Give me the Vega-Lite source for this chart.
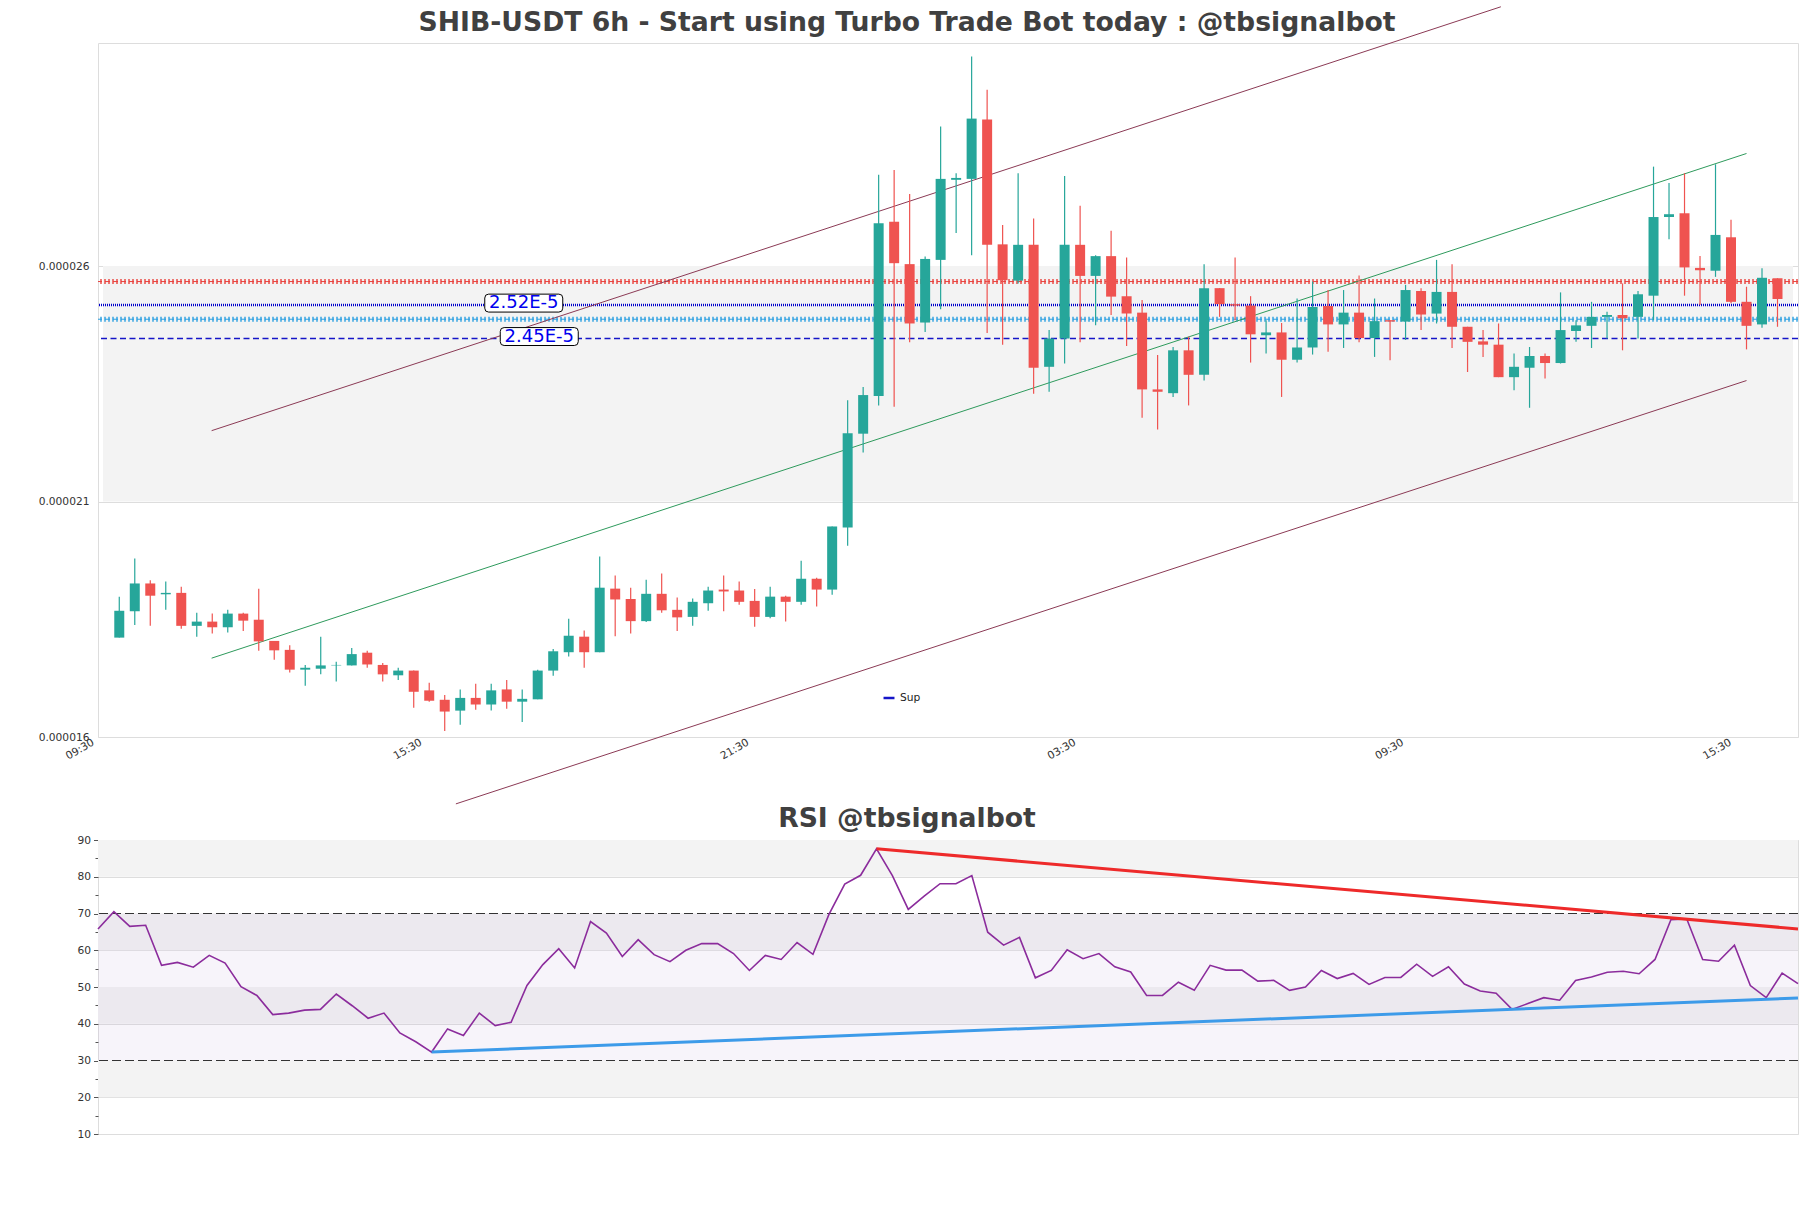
{
  "$schema": "https://vega.github.io/schema/vega-lite/v6.json",
  "background": "white",
  "padding": {"left": 37, "top": 4, "right": 10, "bottom": 5},
  "bounds": "flush",
  "spacing": 103,
  "config": {
    "view": {"stroke": "#dddddd", "strokeWidth": 1},
    "axis": {"labelFont": "DejaVu Sans", "labelColor": "#333333", "domain": false, "labelOverlap": false},
    "legend": {"labelFont": "DejaVu Sans"}
  },
  "datasets": {
    "candles": [
      {"i":0,"o":18.11e-6,"h":18.98e-6,"l":18.11e-6,"c":18.68e-6,"r":65.8},
      {"i":1,"o":18.67e-6,"h":19.79e-6,"l":18.38e-6,"c":19.26e-6,"r":70.5},
      {"i":2,"o":19.26e-6,"h":19.33e-6,"l":18.36e-6,"c":19.00e-6,"r":66.5},
      {"i":3,"o":19.03e-6,"h":19.30e-6,"l":18.70e-6,"c":19.06e-6,"r":66.8},
      {"i":4,"o":19.06e-6,"h":19.19e-6,"l":18.30e-6,"c":18.36e-6,"r":55.9},
      {"i":5,"o":18.36e-6,"h":18.64e-6,"l":18.13e-6,"c":18.45e-6,"r":56.7},
      {"i":6,"o":18.45e-6,"h":18.62e-6,"l":18.20e-6,"c":18.33e-6,"r":55.4},
      {"i":7,"o":18.33e-6,"h":18.70e-6,"l":18.22e-6,"c":18.62e-6,"r":58.6},
      {"i":8,"o":18.62e-6,"h":18.64e-6,"l":18.25e-6,"c":18.47e-6,"r":56.5},
      {"i":9,"o":18.49e-6,"h":19.15e-6,"l":17.83e-6,"c":18.03e-6,"r":50.1},
      {"i":10,"o":18.04e-6,"h":18.04e-6,"l":17.64e-6,"c":17.84e-6,"r":47.7},
      {"i":11,"o":17.85e-6,"h":17.95e-6,"l":17.37e-6,"c":17.43e-6,"r":42.5},
      {"i":12,"o":17.43e-6,"h":17.53e-6,"l":17.09e-6,"c":17.47e-6,"r":42.9},
      {"i":13,"o":17.45e-6,"h":18.13e-6,"l":17.33e-6,"c":17.52e-6,"r":43.7},
      {"i":14,"o":17.52e-6,"h":17.60e-6,"l":17.18e-6,"c":17.53e-6,"r":43.9},
      {"i":15,"o":17.52e-6,"h":17.89e-6,"l":17.52e-6,"c":17.76e-6,"r":48.1},
      {"i":16,"o":17.79e-6,"h":17.83e-6,"l":17.47e-6,"c":17.54e-6,"r":44.9},
      {"i":17,"o":17.53e-6,"h":17.57e-6,"l":17.18e-6,"c":17.33e-6,"r":41.5},
      {"i":18,"o":17.31e-6,"h":17.47e-6,"l":17.21e-6,"c":17.41e-6,"r":42.9},
      {"i":19,"o":17.41e-6,"h":17.41e-6,"l":16.62e-6,"c":16.96e-6,"r":37.5},
      {"i":20,"o":16.99e-6,"h":17.15e-6,"l":16.75e-6,"c":16.77e-6,"r":35.1},
      {"i":21,"o":16.79e-6,"h":16.89e-6,"l":16.13e-6,"c":16.54e-6,"r":32.3},
      {"i":22,"o":16.56e-6,"h":17.01e-6,"l":16.26e-6,"c":16.83e-6,"r":38.6},
      {"i":23,"o":16.83e-6,"h":17.13e-6,"l":16.58e-6,"c":16.69e-6,"r":36.8},
      {"i":24,"o":16.69e-6,"h":17.13e-6,"l":16.56e-6,"c":16.99e-6,"r":42.9},
      {"i":25,"o":17.01e-6,"h":17.21e-6,"l":16.60e-6,"c":16.75e-6,"r":39.5},
      {"i":26,"o":16.75e-6,"h":17.01e-6,"l":16.32e-6,"c":16.81e-6,"r":40.4},
      {"i":27,"o":16.80e-6,"h":17.43e-6,"l":16.80e-6,"c":17.41e-6,"r":50.4},
      {"i":28,"o":17.41e-6,"h":17.87e-6,"l":17.30e-6,"c":17.82e-6,"r":56.1},
      {"i":29,"o":17.80e-6,"h":18.51e-6,"l":17.71e-6,"c":18.15e-6,"r":60.4},
      {"i":30,"o":18.13e-6,"h":18.26e-6,"l":17.47e-6,"c":17.80e-6,"r":55.2},
      {"i":31,"o":17.80e-6,"h":19.83e-6,"l":17.80e-6,"c":19.17e-6,"r":67.8},
      {"i":32,"o":19.15e-6,"h":19.43e-6,"l":18.14e-6,"c":18.92e-6,"r":64.7},
      {"i":33,"o":18.93e-6,"h":19.17e-6,"l":18.20e-6,"c":18.46e-6,"r":58.3},
      {"i":34,"o":18.46e-6,"h":19.34e-6,"l":18.44e-6,"c":19.04e-6,"r":62.9},
      {"i":35,"o":19.04e-6,"h":19.47e-6,"l":18.64e-6,"c":18.69e-6,"r":58.8},
      {"i":36,"o":18.70e-6,"h":18.96e-6,"l":18.25e-6,"c":18.54e-6,"r":56.9},
      {"i":37,"o":18.55e-6,"h":18.94e-6,"l":18.36e-6,"c":18.87e-6,"r":60.0},
      {"i":38,"o":18.84e-6,"h":19.19e-6,"l":18.68e-6,"c":19.11e-6,"r":61.8},
      {"i":39,"o":19.13e-6,"h":19.43e-6,"l":18.67e-6,"c":19.09e-6,"r":61.8},
      {"i":40,"o":19.11e-6,"h":19.30e-6,"l":18.81e-6,"c":18.87e-6,"r":59.1},
      {"i":41,"o":18.89e-6,"h":19.14e-6,"l":18.34e-6,"c":18.55e-6,"r":54.5},
      {"i":42,"o":18.55e-6,"h":19.19e-6,"l":18.52e-6,"c":18.98e-6,"r":58.6},
      {"i":43,"o":18.98e-6,"h":19.00e-6,"l":18.45e-6,"c":18.87e-6,"r":57.5},
      {"i":44,"o":18.87e-6,"h":19.74e-6,"l":18.81e-6,"c":19.36e-6,"r":62.1},
      {"i":45,"o":19.36e-6,"h":19.38e-6,"l":18.77e-6,"c":19.13e-6,"r":58.9},
      {"i":46,"o":19.13e-6,"h":20.47e-6,"l":19.02e-6,"c":20.47e-6,"r":69.7},
      {"i":47,"o":20.45e-6,"h":23.15e-6,"l":20.06e-6,"c":22.45e-6,"r":78.0},
      {"i":48,"o":22.44e-6,"h":23.43e-6,"l":22.04e-6,"c":23.26e-6,"r":80.4},
      {"i":49,"o":23.24e-6,"h":27.94e-6,"l":23.04e-6,"c":26.91e-6,"r":87.6},
      {"i":50,"o":26.94e-6,"h":28.04e-6,"l":23.01e-6,"c":26.06e-6,"r":80.3},
      {"i":51,"o":26.04e-6,"h":27.53e-6,"l":24.38e-6,"c":24.78e-6,"r":71.1},
      {"i":52,"o":24.80e-6,"h":26.20e-6,"l":24.60e-6,"c":26.15e-6,"r":74.7},
      {"i":53,"o":26.13e-6,"h":28.96e-6,"l":25.08e-6,"c":27.85e-6,"r":78.1},
      {"i":54,"o":27.83e-6,"h":27.97e-6,"l":26.70e-6,"c":27.87e-6,"r":78.1},
      {"i":55,"o":27.85e-6,"h":30.45e-6,"l":26.23e-6,"c":29.13e-6,"r":80.3},
      {"i":56,"o":29.11e-6,"h":29.74e-6,"l":24.58e-6,"c":26.45e-6,"r":64.9},
      {"i":57,"o":26.46e-6,"h":26.87e-6,"l":24.33e-6,"c":25.70e-6,"r":61.4},
      {"i":58,"o":25.69e-6,"h":27.97e-6,"l":25.63e-6,"c":26.45e-6,"r":63.5},
      {"i":59,"o":26.45e-6,"h":27.01e-6,"l":23.29e-6,"c":23.84e-6,"r":52.5},
      {"i":60,"o":23.86e-6,"h":24.64e-6,"l":23.33e-6,"c":24.46e-6,"r":54.5},
      {"i":61,"o":24.46e-6,"h":27.91e-6,"l":23.93e-6,"c":26.45e-6,"r":60.1},
      {"i":62,"o":26.45e-6,"h":27.28e-6,"l":24.38e-6,"c":25.79e-6,"r":57.7},
      {"i":63,"o":25.79e-6,"h":26.23e-6,"l":24.74e-6,"c":26.21e-6,"r":59.1},
      {"i":64,"o":26.21e-6,"h":26.75e-6,"l":24.96e-6,"c":25.35e-6,"r":55.5},
      {"i":65,"o":25.36e-6,"h":26.18e-6,"l":24.30e-6,"c":24.99e-6,"r":54.1},
      {"i":66,"o":25.01e-6,"h":25.28e-6,"l":22.78e-6,"c":23.38e-6,"r":47.7},
      {"i":67,"o":23.38e-6,"h":24.11e-6,"l":22.53e-6,"c":23.33e-6,"r":47.7},
      {"i":68,"o":23.30e-6,"h":24.28e-6,"l":23.22e-6,"c":24.21e-6,"r":51.3},
      {"i":69,"o":24.21e-6,"h":24.50e-6,"l":23.04e-6,"c":23.69e-6,"r":49.1},
      {"i":70,"o":23.69e-6,"h":26.04e-6,"l":23.57e-6,"c":25.53e-6,"r":55.9},
      {"i":71,"o":25.53e-6,"h":25.53e-6,"l":24.92e-6,"c":25.19e-6,"r":54.6},
      {"i":72,"o":25.19e-6,"h":26.18e-6,"l":24.85e-6,"c":25.16e-6,"r":54.6},
      {"i":73,"o":25.16e-6,"h":25.36e-6,"l":23.95e-6,"c":24.55e-6,"r":51.6},
      {"i":74,"o":24.53e-6,"h":24.85e-6,"l":24.14e-6,"c":24.59e-6,"r":51.8},
      {"i":75,"o":24.59e-6,"h":24.79e-6,"l":23.22e-6,"c":24.01e-6,"r":49.1},
      {"i":76,"o":24.01e-6,"h":25.31e-6,"l":23.95e-6,"c":24.27e-6,"r":50.0},
      {"i":77,"o":24.27e-6,"h":25.67e-6,"l":24.12e-6,"c":25.13e-6,"r":54.5},
      {"i":78,"o":25.15e-6,"h":25.49e-6,"l":24.18e-6,"c":24.76e-6,"r":52.3},
      {"i":79,"o":24.76e-6,"h":25.49e-6,"l":24.26e-6,"c":25.01e-6,"r":53.7},
      {"i":80,"o":25.01e-6,"h":25.80e-6,"l":24.38e-6,"c":24.47e-6,"r":50.7},
      {"i":81,"o":24.47e-6,"h":25.31e-6,"l":24.07e-6,"c":24.83e-6,"r":52.6},
      {"i":82,"o":24.85e-6,"h":24.85e-6,"l":24.00e-6,"c":24.82e-6,"r":52.6},
      {"i":83,"o":24.82e-6,"h":25.60e-6,"l":24.43e-6,"c":25.49e-6,"r":56.2},
      {"i":84,"o":25.47e-6,"h":25.53e-6,"l":24.64e-6,"c":24.97e-6,"r":52.9},
      {"i":85,"o":24.99e-6,"h":26.13e-6,"l":24.78e-6,"c":25.45e-6,"r":55.5},
      {"i":86,"o":25.45e-6,"h":26.04e-6,"l":24.26e-6,"c":24.71e-6,"r":50.8},
      {"i":87,"o":24.71e-6,"h":24.71e-6,"l":23.75e-6,"c":24.39e-6,"r":48.9},
      {"i":88,"o":24.40e-6,"h":24.64e-6,"l":24.07e-6,"c":24.33e-6,"r":48.3},
      {"i":89,"o":24.33e-6,"h":24.78e-6,"l":23.64e-6,"c":23.64e-6,"r":43.9},
      {"i":90,"o":23.64e-6,"h":24.14e-6,"l":23.36e-6,"c":23.86e-6,"r":45.5},
      {"i":91,"o":23.84e-6,"h":24.28e-6,"l":22.99e-6,"c":24.09e-6,"r":47.1},
      {"i":92,"o":24.09e-6,"h":24.14e-6,"l":23.61e-6,"c":23.94e-6,"r":46.4},
      {"i":93,"o":23.94e-6,"h":25.44e-6,"l":23.93e-6,"c":24.64e-6,"r":51.8},
      {"i":94,"o":24.62e-6,"h":24.85e-6,"l":24.39e-6,"c":24.74e-6,"r":52.7},
      {"i":95,"o":24.73e-6,"h":25.24e-6,"l":24.26e-6,"c":24.92e-6,"r":54.0},
      {"i":96,"o":24.92e-6,"h":25.03e-6,"l":24.46e-6,"c":24.96e-6,"r":54.3},
      {"i":97,"o":24.96e-6,"h":25.63e-6,"l":24.21e-6,"c":24.89e-6,"r":53.6},
      {"i":98,"o":24.92e-6,"h":25.47e-6,"l":24.46e-6,"c":25.40e-6,"r":57.5},
      {"i":99,"o":25.37e-6,"h":28.11e-6,"l":24.85e-6,"c":27.04e-6,"r":68.3},
      {"i":100,"o":27.04e-6,"h":27.76e-6,"l":26.57e-6,"c":27.10e-6,"r":68.5},
      {"i":101,"o":27.12e-6,"h":27.97e-6,"l":25.37e-6,"c":25.97e-6,"r":57.5},
      {"i":102,"o":25.96e-6,"h":26.21e-6,"l":25.17e-6,"c":25.91e-6,"r":57.0},
      {"i":103,"o":25.90e-6,"h":28.16e-6,"l":25.77e-6,"c":26.66e-6,"r":61.4},
      {"i":104,"o":26.61e-6,"h":26.98e-6,"l":25.21e-6,"c":25.24e-6,"r":50.4},
      {"i":105,"o":25.24e-6,"h":25.56e-6,"l":24.23e-6,"c":24.73e-6,"r":47.1},
      {"i":106,"o":24.76e-6,"h":25.95e-6,"l":24.69e-6,"c":25.75e-6,"r":53.8},
      {"i":107,"o":25.74e-6,"h":25.74e-6,"l":24.71e-6,"c":25.30e-6,"r":50.9}
    ],
    "chan": [
      {"g":"up","i":5.96,"p":22.504e-6},
      {"g":"up","i":89.15,"p":31.504e-6},
      {"g":"lo","i":21.72,"p":14.58e-6},
      {"g":"lo","i":105,"p":23.568e-6}
    ],
    "mid": [
      {"i":5.96,"p":17.674e-6},
      {"i":105,"p":28.389e-6}
    ],
    "sup": [
      {"i":21,"v":32.3},
      {"i":107,"v":47.0}
    ],
    "res": [
      {"i":49,"v":87.6},
      {"i":107,"v":65.8}
    ],
    "tags": [
      {"t":"2.52E-5","i":26.1,"p":25.17e-6},
      {"t":"2.45E-5","i":27.1,"p":24.46e-6}
    ]
  },
  "vconcat": [
    {
      "width": 1700,
      "height": 694,
      "title": {"text": "SHIB-USDT 6h - Start using Turbo Trade Bot today : @tbsignalbot", "font": "DejaVu Sans", "fontSize": 26.67, "fontWeight": "bold", "color": "#404040", "anchor": "middle", "frame": "group", "dx": -41, "offset": -53, "baseline": "alphabetic"},
      "layer": [
        {
          "data": {"values": [{"lo": 21e-6, "hi": 26e-6}]},
          "mark": {"type": "rect", "color": "#f3f3f3"},
          "encoding": {
            "x": {"datum": -1.05, "type": "quantitative", "scale": {"domain": [-1.05, 108], "nice": false, "zero": false},
              "axis": {"values": [-1.05, 20.1, 41.2, 62.3, 83.45, 104.6], "tickCount": 20, "labelExpr": "datum.value < 0 ? '09:30' : datum.value < 30 ? '15:30' : datum.value < 50 ? '21:30' : datum.value < 70 ? '03:30' : datum.value < 90 ? '09:30' : '15:30'", "labelAngle": -30, "labelAlign": "right", "labelBaseline": "top", "labelFlush": false, "labelFontSize": 10.67, "labelOffset": -12.6, "ticks": false, "grid": false, "labelPadding": 0, "labelOverlap": false, "title": null}},
            "x2": {"datum": 108},
            "y": {"field": "lo", "type": "quantitative", "scale": {"domain": [16e-6, 30.735e-6], "nice": false, "zero": false},
              "axis": {"values": [16e-6, 21e-6, 26e-6], "tickCount": 20, "format": ".6f", "labelFontSize": 10.67, "ticks": false, "grid": true, "gridColor": "#dddddd", "labelPadding": 9, "labelOverlap": false, "title": null}},
            "y2": {"field": "hi"}
          }
        },
        {
          "data": {"values": [{}]},
          "mark": {"type": "rule", "color": "#e8413c", "strokeWidth": 5, "strokeDash": [2, 2], "opacity": 0.7},
          "encoding": {"y": {"datum": 25.67e-6, "type": "quantitative"}}
        },
        {
          "data": {"values": [{}]},
          "mark": {"type": "rule", "color": "#e8413c", "strokeWidth": 1, "strokeDash": [5, 3]},
          "encoding": {"y": {"datum": 25.67e-6, "type": "quantitative"}}
        },
        {
          "data": {"values": [{}]},
          "mark": {"type": "rule", "color": "#2a9ee0", "strokeWidth": 5, "strokeDash": [2, 2], "opacity": 0.7},
          "encoding": {"y": {"datum": 24.87e-6, "type": "quantitative"}}
        },
        {
          "data": {"values": [{}]},
          "mark": {"type": "rule", "color": "#2a9ee0", "strokeWidth": 1, "strokeDash": [5, 3]},
          "encoding": {"y": {"datum": 24.87e-6, "type": "quantitative"}}
        },
        {
          "data": {"values": [{}]},
          "mark": {"type": "rule", "color": "#0000cc", "strokeWidth": 2.5, "strokeDash": [1, 1]},
          "encoding": {"y": {"datum": 25.17e-6, "type": "quantitative"}}
        },
        {
          "data": {"values": [{}]},
          "mark": {"type": "rule", "strokeWidth": 1.5, "strokeDash": [6, 3.5]},
          "encoding": {
            "y": {"datum": 24.46e-6, "type": "quantitative"},
            "color": {"datum": "Sup", "type": "nominal", "scale": {"range": ["#1515c8"]},
              "legend": {"orient": "none", "legendX": 782, "legendY": 646, "title": null, "symbolType": "stroke", "symbolDash": [1, 0], "symbolStrokeWidth": 2.5, "symbolSize": 120, "labelFontSize": 10.67, "labelColor": "#222222", "padding": 2}}
          }
        },
        {
          "data": {"name": "chan"},
          "mark": {"type": "line", "strokeWidth": 1, "color": "#8b3a55"},
          "encoding": {
            "x": {"field": "i", "type": "quantitative", "title": null},
            "y": {"field": "p", "type": "quantitative", "title": null},
            "detail": {"field": "g"}
          }
        },
        {
          "data": {"name": "mid"},
          "mark": {"type": "line", "strokeWidth": 1, "color": "#2e9a5c"},
          "encoding": {
            "x": {"field": "i", "type": "quantitative", "title": null},
            "y": {"field": "p", "type": "quantitative", "title": null}
          }
        },
        {
          "data": {"name": "candles"},
          "mark": {"type": "rule", "strokeWidth": 1.2},
          "encoding": {
            "x": {"field": "i", "type": "quantitative", "title": null},
            "y": {"field": "l", "type": "quantitative", "title": null},
            "y2": {"field": "h"},
            "color": {"condition": {"test": "datum.c >= datum.o", "value": "#26a69a"}, "value": "#ef5350"}
          }
        },
        {
          "data": {"name": "candles"},
          "mark": {"type": "bar", "width": 10},
          "encoding": {
            "x": {"field": "i", "type": "quantitative", "title": null},
            "y": {"field": "o", "type": "quantitative", "title": null},
            "y2": {"field": "c"},
            "color": {"condition": {"test": "datum.c >= datum.o", "value": "#26a69a"}, "value": "#ef5350"}
          }
        },
        {
          "data": {"name": "tags"},
          "mark": {"type": "point", "shape": "M-0.9,-0.23L0.9,-0.23Q1,-0.23 1,-0.13L1,0.13Q1,0.23 0.9,0.23L-0.9,0.23Q-1,0.23 -1,0.13L-1,-0.13Q-1,-0.23 -0.9,-0.23Z", "size": 6084, "filled": true, "fill": "white", "stroke": "black", "strokeWidth": 1, "opacity": 1, "yOffset": -2},
          "encoding": {
            "x": {"field": "i", "type": "quantitative", "title": null},
            "y": {"field": "p", "type": "quantitative", "title": null}
          }
        },
        {
          "data": {"name": "tags"},
          "mark": {"type": "text", "font": "DejaVu Sans", "fontSize": 18, "color": "#0000ee", "yOffset": -2, "baseline": "middle"},
          "encoding": {
            "x": {"field": "i", "type": "quantitative", "title": null},
            "y": {"field": "p", "type": "quantitative", "title": null},
            "text": {"field": "t"}
          }
        }
      ]
    },
    {
      "width": 1700,
      "height": 294,
      "title": {"text": "RSI @tbsignalbot", "font": "DejaVu Sans", "fontSize": 26.67, "fontWeight": "bold", "color": "#404040", "anchor": "middle", "frame": "group", "dx": -41, "offset": -20, "baseline": "alphabetic"},
      "layer": [
        {
          "data": {"values": [{"lo": 80, "hi": 90}, {"lo": 60, "hi": 70}, {"lo": 40, "hi": 50}, {"lo": 20, "hi": 30}]},
          "mark": {"type": "rect", "color": "#f3f3f3"},
          "encoding": {
            "x": {"datum": 0, "type": "quantitative", "scale": {"domain": [0, 107], "nice": false, "zero": false}, "axis": null},
            "x2": {"datum": 107},
            "y": {"field": "lo", "type": "quantitative", "scale": {"domain": [10, 90], "nice": false, "zero": false},
              "axis": {"values": [10, 15, 20, 25, 30, 35, 40, 45, 50, 55, 60, 65, 70, 75, 80, 85, 90], "tickCount": 40, "labelExpr": "datum.value % 10 === 0 ? '' + datum.value : ''", "labelOverlap": false, "labelFontSize": 10.67, "ticks": true, "tickColor": "#555555", "tickSize": {"condition": {"test": "datum.value % 10 === 0", "value": 4.5}, "value": 3}, "grid": true, "gridColor": "#dddddd", "gridOpacity": {"condition": {"test": "datum.value % 10 === 0", "value": 1}, "value": 0}, "labelPadding": 3, "title": null}},
            "y2": {"field": "hi"}
          }
        },
        {
          "data": {"values": [{"lo": 30, "hi": 70}]},
          "mark": {"type": "rect", "color": "#c9b3dc", "opacity": 0.14},
          "encoding": {
            "x": {"datum": 0, "type": "quantitative"},
            "x2": {"datum": 107},
            "y": {"field": "lo", "type": "quantitative", "title": null},
            "y2": {"field": "hi"}
          }
        },
        {
          "data": {"values": [{"v": 30}, {"v": 70}]},
          "mark": {"type": "rule", "color": "#333333", "strokeWidth": 1.2, "strokeDash": [9, 4]},
          "encoding": {"y": {"field": "v", "type": "quantitative", "title": null}}
        },
        {
          "data": {"name": "candles"},
          "mark": {"type": "line", "color": "#8b2c9c", "strokeWidth": 1.6},
          "encoding": {
            "x": {"field": "i", "type": "quantitative", "title": null},
            "y": {"field": "r", "type": "quantitative", "title": null}
          }
        },
        {
          "data": {"name": "sup"},
          "mark": {"type": "line", "strokeWidth": 3, "color": "#3d9be9"},
          "encoding": {
            "x": {"field": "i", "type": "quantitative", "title": null},
            "y": {"field": "v", "type": "quantitative", "title": null}
          }
        },
        {
          "data": {"name": "res"},
          "mark": {"type": "line", "strokeWidth": 3, "color": "#ee2a2a"},
          "encoding": {
            "x": {"field": "i", "type": "quantitative", "title": null},
            "y": {"field": "v", "type": "quantitative", "title": null}
          }
        }
      ]
    }
  ]
}
